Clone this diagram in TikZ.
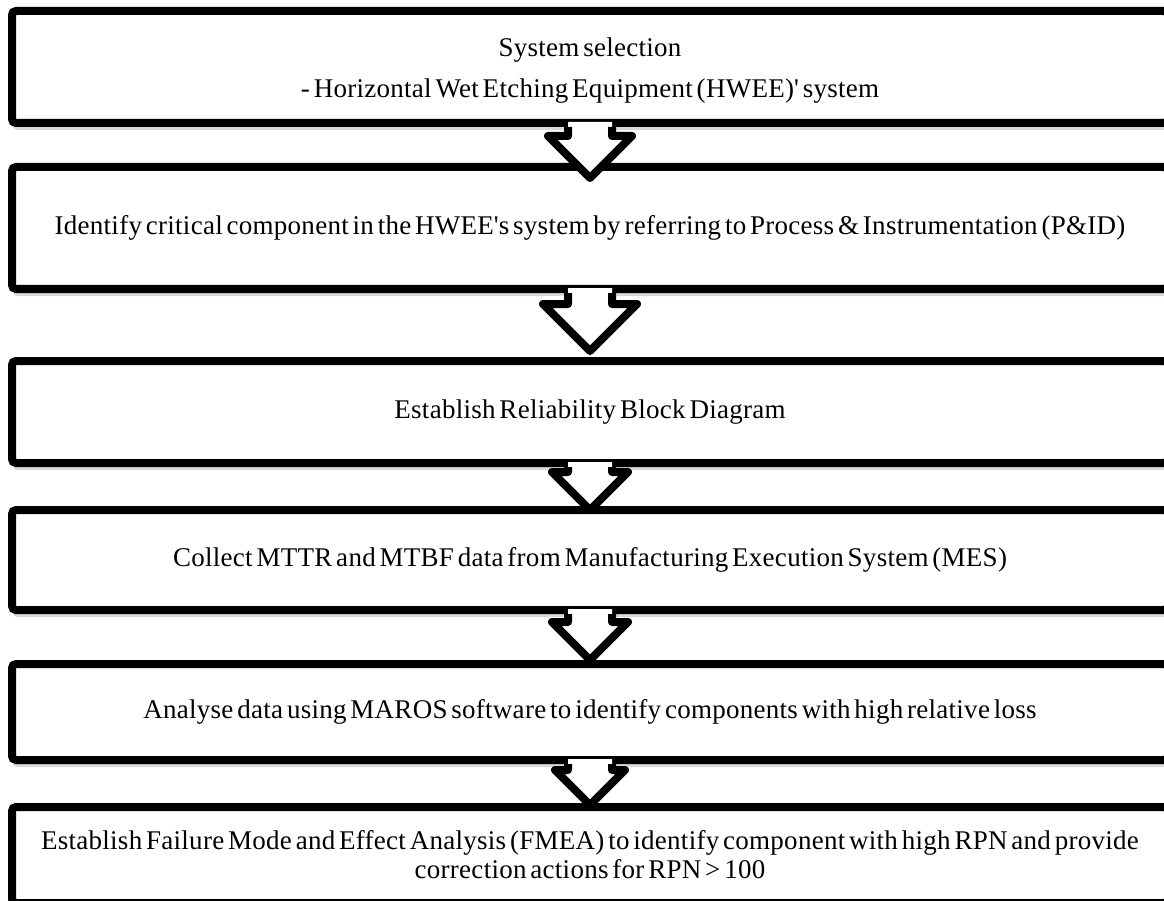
\documentclass[tikz,border=0pt]{standalone}
\usepackage{fontspec}
\setmainfont{Liberation Serif}[LetterSpace=1.0, WordSpace=0.55]
\usetikzlibrary{calc,shadows}
\tikzset{
  stepbox/.style={draw=black, line width=8pt, rounded corners=4pt, fill=white,
    minimum width=1156pt, inner sep=0pt, align=center,
    drop shadow={shadow xshift=1pt, shadow yshift=-7pt, fill=black, opacity=0.15},
    font=\fontsize{27}{29}\selectfont},
  arrowline/.style={draw=black, line width=8pt, line join=round},
}
\newcommand\flowarrow[4]{%
  \fill[white] let \p1=(#1.south), \p2=([yshift=#3pt]#2.north) in
    ({\x1-22pt},{\y1+5pt}) -- ({\x1-22pt},{\y2+#4pt}) -- ({\x1-#4pt},{\y2+#4pt})
    -- (\x1,\y2) -- ({\x1+#4pt},{\y2+#4pt}) -- ({\x1+22pt},{\y2+#4pt})
    -- ({\x1+22pt},{\y1+5pt}) -- cycle;
  \draw[arrowline] let \p1=(#1.south), \p2=([yshift=#3pt]#2.north) in
    ({\x1-22pt},{\y1}) -- ({\x1-22pt},{\y2+#4pt}) -- ({\x1-#4pt},{\y2+#4pt})
    -- (\x1,\y2) -- ({\x1+#4pt},{\y2+#4pt}) -- ({\x1+22pt},{\y2+#4pt})
    -- ({\x1+22pt},{\y1});
}
\begin{document}
\begin{tikzpicture}[x=1pt,y=-1pt]
\useasboundingbox (0,0) rectangle (1164,901);
\clip (0,0) rectangle (1164,901);
\node[stepbox, minimum height=112pt] (b1) at (590,67)
  {\raisebox{-4pt}[\height][\depth]{System selection}\\[12pt] \raisebox{-4pt}[\height][\depth]{- Horizontal Wet Etching Equipment (HWEE)\textquotesingle\ system}};
\node[stepbox, minimum height=122pt] (b2) at (590,228)
  {Identify critical component in the HWEE\textquotesingle s system by referring to Process \& Instrumentation (P\&ID)};
\node[stepbox, minimum height=102pt] (b3) at (590,412)
  {Establish Reliability Block Diagram};
\node[stepbox, minimum height=100pt] (b4) at (590,560)
  {Collect MTTR and MTBF data from Manufacturing Execution System (MES)};
\node[stepbox, minimum height=96pt] (b5) at (590,712)
  {Analyse data using MAROS software to identify components with high relative loss};
\node[stepbox, minimum height=96pt] (b6) at (590,855)
  {Establish Failure Mode and Effect Analysis (FMEA) to identify component with high RPN and provide\\ correction actions for RPN > 100};
\flowarrow{b1}{b2}{-15}{42}
\flowarrow{b2}{b3}{6}{47}
\flowarrow{b3}{b4}{-4}{38}
\flowarrow{b4}{b5}{0}{38}
\flowarrow{b5}{b6}{-2}{35}
\end{tikzpicture}
\end{document}
